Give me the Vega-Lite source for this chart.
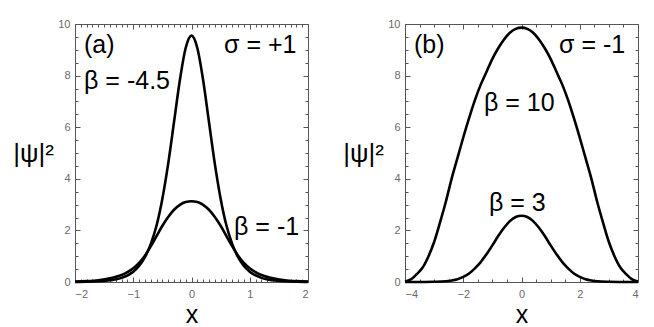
{
  "$schema": "https://vega.github.io/schema/vega-lite/v6.json",
  "padding": {"left": 12, "top": 17, "right": 14, "bottom": 2},
  "background": "white",
  "config": {
    "view": {"stroke": "#555", "strokeWidth": 1},
    "axis": {"grid": false, "domain": false, "labelFont": "Liberation Sans", "labelFontSize": 11, "labelColor": "#6a6a6a", "tickColor": "#555", "tickWidth": 1, "titleFont": "Liberation Sans", "titleFontWeight": "normal", "titleColor": "black"},
    "text": {"font": "Liberation Sans", "fontSize": 25, "color": "black"}
  },
  "datasets": {
    "a": [
      {"s": "b45", "x": -2.0, "y": 0.005}, {"s": "b45", "x": -1.8, "y": 0.012}, {"s": "b45", "x": -1.6, "y": 0.028}, {"s": "b45", "x": -1.4, "y": 0.066}, {"s": "b45", "x": -1.2, "y": 0.16}, {"s": "b45", "x": -1.0, "y": 0.40}, {"s": "b45", "x": -0.9, "y": 0.62}, {"s": "b45", "x": -0.8, "y": 0.96}, {"s": "b45", "x": -0.7, "y": 1.47}, {"s": "b45", "x": -0.6, "y": 2.19}, {"s": "b45", "x": -0.5, "y": 3.23}, {"s": "b45", "x": -0.4, "y": 4.59}, {"s": "b45", "x": -0.3, "y": 6.20}, {"s": "b45", "x": -0.2, "y": 7.82}, {"s": "b45", "x": -0.1, "y": 9.07}, {"s": "b45", "x": 0.0, "y": 9.55}, {"s": "b45", "x": 0.1, "y": 9.07}, {"s": "b45", "x": 0.2, "y": 7.82}, {"s": "b45", "x": 0.3, "y": 6.20}, {"s": "b45", "x": 0.4, "y": 4.59}, {"s": "b45", "x": 0.5, "y": 3.23}, {"s": "b45", "x": 0.6, "y": 2.19}, {"s": "b45", "x": 0.7, "y": 1.47}, {"s": "b45", "x": 0.8, "y": 0.96}, {"s": "b45", "x": 0.9, "y": 0.62}, {"s": "b45", "x": 1.0, "y": 0.40}, {"s": "b45", "x": 1.2, "y": 0.16}, {"s": "b45", "x": 1.4, "y": 0.066}, {"s": "b45", "x": 1.6, "y": 0.028}, {"s": "b45", "x": 1.8, "y": 0.012}, {"s": "b45", "x": 2.0, "y": 0.005},
      {"s": "b1", "x": -2.0, "y": 0.017}, {"s": "b1", "x": -1.8, "y": 0.035}, {"s": "b1", "x": -1.6, "y": 0.07}, {"s": "b1", "x": -1.4, "y": 0.14}, {"s": "b1", "x": -1.2, "y": 0.27}, {"s": "b1", "x": -1.1, "y": 0.38}, {"s": "b1", "x": -1.0, "y": 0.53}, {"s": "b1", "x": -0.9, "y": 0.74}, {"s": "b1", "x": -0.8, "y": 1.02}, {"s": "b1", "x": -0.7, "y": 1.38}, {"s": "b1", "x": -0.6, "y": 1.78}, {"s": "b1", "x": -0.5, "y": 2.18}, {"s": "b1", "x": -0.4, "y": 2.52}, {"s": "b1", "x": -0.3, "y": 2.80}, {"s": "b1", "x": -0.2, "y": 2.99}, {"s": "b1", "x": -0.1, "y": 3.10}, {"s": "b1", "x": 0.0, "y": 3.13}, {"s": "b1", "x": 0.1, "y": 3.10}, {"s": "b1", "x": 0.2, "y": 2.99}, {"s": "b1", "x": 0.3, "y": 2.80}, {"s": "b1", "x": 0.4, "y": 2.52}, {"s": "b1", "x": 0.5, "y": 2.18}, {"s": "b1", "x": 0.6, "y": 1.78}, {"s": "b1", "x": 0.7, "y": 1.38}, {"s": "b1", "x": 0.8, "y": 1.02}, {"s": "b1", "x": 0.9, "y": 0.74}, {"s": "b1", "x": 1.0, "y": 0.53}, {"s": "b1", "x": 1.1, "y": 0.38}, {"s": "b1", "x": 1.2, "y": 0.27}, {"s": "b1", "x": 1.4, "y": 0.14}, {"s": "b1", "x": 1.6, "y": 0.07}, {"s": "b1", "x": 1.8, "y": 0.035}, {"s": "b1", "x": 2.0, "y": 0.017}
    ],
    "b": [
      {"s": "b10", "x": -4.0, "y": 0.02}, {"s": "b10", "x": -3.8, "y": 0.1}, {"s": "b10", "x": -3.6, "y": 0.3}, {"s": "b10", "x": -3.4, "y": 0.55}, {"s": "b10", "x": -3.2, "y": 0.98}, {"s": "b10", "x": -3.0, "y": 1.55}, {"s": "b10", "x": -2.8, "y": 2.3}, {"s": "b10", "x": -2.6, "y": 3.1}, {"s": "b10", "x": -2.4, "y": 4.0}, {"s": "b10", "x": -2.2, "y": 4.8}, {"s": "b10", "x": -2.0, "y": 5.6}, {"s": "b10", "x": -1.8, "y": 6.35}, {"s": "b10", "x": -1.6, "y": 7.05}, {"s": "b10", "x": -1.4, "y": 7.65}, {"s": "b10", "x": -1.2, "y": 8.15}, {"s": "b10", "x": -1.0, "y": 8.65}, {"s": "b10", "x": -0.8, "y": 9.06}, {"s": "b10", "x": -0.6, "y": 9.4}, {"s": "b10", "x": -0.4, "y": 9.66}, {"s": "b10", "x": -0.2, "y": 9.81}, {"s": "b10", "x": 0.0, "y": 9.86}, {"s": "b10", "x": 0.2, "y": 9.81}, {"s": "b10", "x": 0.4, "y": 9.66}, {"s": "b10", "x": 0.6, "y": 9.4}, {"s": "b10", "x": 0.8, "y": 9.06}, {"s": "b10", "x": 1.0, "y": 8.65}, {"s": "b10", "x": 1.2, "y": 8.15}, {"s": "b10", "x": 1.4, "y": 7.65}, {"s": "b10", "x": 1.6, "y": 7.05}, {"s": "b10", "x": 1.8, "y": 6.35}, {"s": "b10", "x": 2.0, "y": 5.6}, {"s": "b10", "x": 2.2, "y": 4.8}, {"s": "b10", "x": 2.4, "y": 4.0}, {"s": "b10", "x": 2.6, "y": 3.1}, {"s": "b10", "x": 2.8, "y": 2.3}, {"s": "b10", "x": 3.0, "y": 1.55}, {"s": "b10", "x": 3.2, "y": 0.98}, {"s": "b10", "x": 3.4, "y": 0.55}, {"s": "b10", "x": 3.6, "y": 0.3}, {"s": "b10", "x": 3.8, "y": 0.1}, {"s": "b10", "x": 4.0, "y": 0.02},
      {"s": "b3", "x": -4.0, "y": 0.0}, {"s": "b3", "x": -3.5, "y": 0.002}, {"s": "b3", "x": -3.0, "y": 0.01}, {"s": "b3", "x": -2.6, "y": 0.03}, {"s": "b3", "x": -2.4, "y": 0.06}, {"s": "b3", "x": -2.2, "y": 0.11}, {"s": "b3", "x": -2.0, "y": 0.2}, {"s": "b3", "x": -1.8, "y": 0.33}, {"s": "b3", "x": -1.6, "y": 0.53}, {"s": "b3", "x": -1.4, "y": 0.77}, {"s": "b3", "x": -1.2, "y": 1.08}, {"s": "b3", "x": -1.0, "y": 1.42}, {"s": "b3", "x": -0.8, "y": 1.78}, {"s": "b3", "x": -0.6, "y": 2.1}, {"s": "b3", "x": -0.4, "y": 2.36}, {"s": "b3", "x": -0.2, "y": 2.52}, {"s": "b3", "x": 0.0, "y": 2.57}, {"s": "b3", "x": 0.2, "y": 2.52}, {"s": "b3", "x": 0.4, "y": 2.36}, {"s": "b3", "x": 0.6, "y": 2.1}, {"s": "b3", "x": 0.8, "y": 1.78}, {"s": "b3", "x": 1.0, "y": 1.42}, {"s": "b3", "x": 1.2, "y": 1.08}, {"s": "b3", "x": 1.4, "y": 0.77}, {"s": "b3", "x": 1.6, "y": 0.53}, {"s": "b3", "x": 1.8, "y": 0.33}, {"s": "b3", "x": 2.0, "y": 0.2}, {"s": "b3", "x": 2.2, "y": 0.11}, {"s": "b3", "x": 2.4, "y": 0.06}, {"s": "b3", "x": 2.6, "y": 0.03}, {"s": "b3", "x": 3.0, "y": 0.01}, {"s": "b3", "x": 3.5, "y": 0.002}, {"s": "b3", "x": 4.0, "y": 0.0}
    ],
    "ta": [
      {"x": -1.845, "y": 9.2, "t": "(a)"},
      {"x": 0.558, "y": 9.19, "t": "σ = +1"},
      {"x": -1.845, "y": 7.81, "t": "β = -4.5"},
      {"x": 0.73, "y": 2.12, "t": "β = -1"}
    ],
    "tb": [
      {"x": -3.69, "y": 9.2, "t": "(b)"},
      {"x": 1.288, "y": 9.17, "t": "σ = -1"},
      {"x": -1.288, "y": 6.93, "t": "β = 10"},
      {"x": -1.116, "y": 3.05, "t": "β = 3"}
    ]
  },
  "bounds": "flush",
  "spacing": 97,
  "hconcat": [
    {
      "width": 233, "height": 258,
      "data": {"name": "a"},
      "layer": [
        {
          "mark": {"type": "line", "color": "black", "strokeWidth": 2.6, "interpolate": "monotone"},
          "encoding": {
            "x": {"field": "x", "type": "quantitative", "scale": {"domain": [-2, 2], "nice": false, "zero": false},
                  "axis": {"orient": "bottom", "values": [-2, -1, 0, 1, 2], "tickSize": -5, "labelPadding": 11, "title": "x", "titleFontSize": 25, "titleY": 32.5, "titleBaseline": "middle"}},
            "y": {"field": "y", "type": "quantitative", "scale": {"domain": [0, 10], "nice": false, "zero": false},
                  "axis": {"orient": "left", "values": [0, 2, 4, 6, 8, 10], "tickSize": -5, "labelPadding": 10, "title": "|ψ|²", "titleFontSize": 26, "titleAngle": 0, "titleAlign": "center", "titleBaseline": "middle", "titleX": -42, "titleY": 129}},
            "detail": {"field": "s"}
          }
        },
        {
          "mark": {"type": "point", "opacity": 0},
          "encoding": {
            "x": {"field": "x", "type": "quantitative", "axis": {"orient": "top", "values": [-2, -1, 0, 1, 2], "tickSize": -5, "labels": false, "title": null}},
            "y": {"field": "y", "type": "quantitative", "axis": {"orient": "right", "values": [0, 2, 4, 6, 8, 10], "tickSize": -5, "labels": false, "title": null}}
          }
        },
        {
          "mark": {"type": "point", "opacity": 0},
          "encoding": {
            "x": {"field": "x", "type": "quantitative", "axis": {"orient": "bottom", "values": [-1.9, -1.8, -1.7, -1.6, -1.5, -1.4, -1.3, -1.2, -1.1, -0.9, -0.8, -0.7, -0.6, -0.5, -0.4, -0.3, -0.2, -0.1, 0.1, 0.2, 0.3, 0.4, 0.5, 0.6, 0.7, 0.8, 0.9, 1.1, 1.2, 1.3, 1.4, 1.5, 1.6, 1.7, 1.8, 1.9], "tickSize": -3, "labels": false, "title": null}},
            "y": {"field": "y", "type": "quantitative", "axis": {"orient": "left", "values": [0.5, 1, 1.5, 2.5, 3, 3.5, 4.5, 5, 5.5, 6.5, 7, 7.5, 8.5, 9, 9.5], "tickSize": -3, "labels": false, "title": null}}
          }
        },
        {
          "mark": {"type": "point", "opacity": 0},
          "encoding": {
            "x": {"field": "x", "type": "quantitative", "axis": {"orient": "top", "values": [-1.9, -1.8, -1.7, -1.6, -1.5, -1.4, -1.3, -1.2, -1.1, -0.9, -0.8, -0.7, -0.6, -0.5, -0.4, -0.3, -0.2, -0.1, 0.1, 0.2, 0.3, 0.4, 0.5, 0.6, 0.7, 0.8, 0.9, 1.1, 1.2, 1.3, 1.4, 1.5, 1.6, 1.7, 1.8, 1.9], "tickSize": -3, "labels": false, "title": null}},
            "y": {"field": "y", "type": "quantitative", "axis": {"orient": "right", "values": [0.5, 1, 1.5, 2.5, 3, 3.5, 4.5, 5, 5.5, 6.5, 7, 7.5, 8.5, 9, 9.5], "tickSize": -3, "labels": false, "title": null}}
          }
        },
        {
          "data": {"name": "ta"},
          "mark": {"type": "text", "align": "left", "baseline": "middle"},
          "encoding": {
            "x": {"field": "x", "type": "quantitative", "axis": null},
            "y": {"field": "y", "type": "quantitative", "axis": null},
            "text": {"field": "t"}
          }
        }
      ],
      "resolve": {"axis": {"x": "independent", "y": "independent"}}
    },
    {
      "width": 233, "height": 258,
      "data": {"name": "b"},
      "layer": [
        {
          "mark": {"type": "line", "color": "black", "strokeWidth": 2.6, "interpolate": "monotone"},
          "encoding": {
            "x": {"field": "x", "type": "quantitative", "scale": {"domain": [-4, 4], "nice": false, "zero": false},
                  "axis": {"orient": "bottom", "values": [-4, -2, 0, 2, 4], "tickSize": -5, "labelPadding": 11, "title": "x", "titleFontSize": 25, "titleY": 32.5, "titleBaseline": "middle"}},
            "y": {"field": "y", "type": "quantitative", "scale": {"domain": [0, 10], "nice": false, "zero": false},
                  "axis": {"orient": "left", "values": [0, 2, 4, 6, 8, 10], "tickSize": -5, "labelPadding": 10, "title": "|ψ|²", "titleFontSize": 26, "titleAngle": 0, "titleAlign": "center", "titleBaseline": "middle", "titleX": -42, "titleY": 129}},
            "detail": {"field": "s"}
          }
        },
        {
          "mark": {"type": "point", "opacity": 0},
          "encoding": {
            "x": {"field": "x", "type": "quantitative", "axis": {"orient": "top", "values": [-4, -2, 0, 2, 4], "tickSize": -5, "labels": false, "title": null}},
            "y": {"field": "y", "type": "quantitative", "axis": {"orient": "right", "values": [0, 2, 4, 6, 8, 10], "tickSize": -5, "labels": false, "title": null}}
          }
        },
        {
          "mark": {"type": "point", "opacity": 0},
          "encoding": {
            "x": {"field": "x", "type": "quantitative", "axis": {"orient": "bottom", "values": [-3.5, -3, -2.5, -1.5, -1, -0.5, 0.5, 1, 1.5, 2.5, 3, 3.5], "tickSize": -3, "labels": false, "title": null}},
            "y": {"field": "y", "type": "quantitative", "axis": {"orient": "left", "values": [0.5, 1, 1.5, 2.5, 3, 3.5, 4.5, 5, 5.5, 6.5, 7, 7.5, 8.5, 9, 9.5], "tickSize": -3, "labels": false, "title": null}}
          }
        },
        {
          "mark": {"type": "point", "opacity": 0},
          "encoding": {
            "x": {"field": "x", "type": "quantitative", "axis": {"orient": "top", "values": [-3.5, -3, -2.5, -1.5, -1, -0.5, 0.5, 1, 1.5, 2.5, 3, 3.5], "tickSize": -3, "labels": false, "title": null}},
            "y": {"field": "y", "type": "quantitative", "axis": {"orient": "right", "values": [0.5, 1, 1.5, 2.5, 3, 3.5, 4.5, 5, 5.5, 6.5, 7, 7.5, 8.5, 9, 9.5], "tickSize": -3, "labels": false, "title": null}}
          }
        },
        {
          "data": {"name": "tb"},
          "mark": {"type": "text", "align": "left", "baseline": "middle"},
          "encoding": {
            "x": {"field": "x", "type": "quantitative", "axis": null},
            "y": {"field": "y", "type": "quantitative", "axis": null},
            "text": {"field": "t"}
          }
        }
      ],
      "resolve": {"axis": {"x": "independent", "y": "independent"}}
    }
  ]
}
